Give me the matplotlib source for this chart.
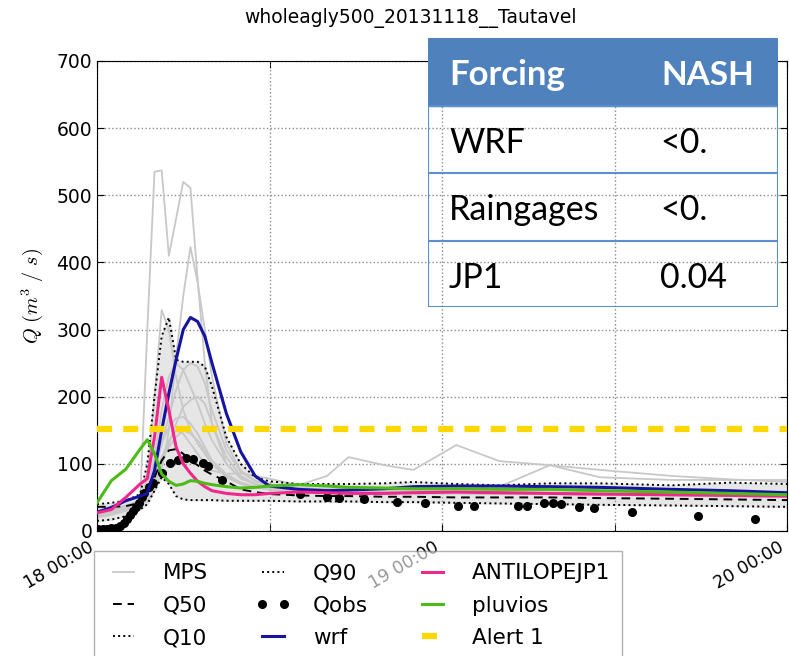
import matplotlib
matplotlib.use("Agg")
import matplotlib.pyplot as plt
from matplotlib.patches import Rectangle

plt.rcParams["mathtext.fontset"] = "cm"

# time axis in hours since 18 00:00
hours = [0, 1, 2, 3, 3.5, 4, 4.5, 5, 5.5, 6, 6.5, 7, 7.5, 8, 9, 10, 11, 12,
         14, 16, 17.5, 20, 22, 25, 28, 31.5, 35, 40, 44, 48]

wrf = [28, 35, 45, 52, 56, 90, 150, 205, 255, 300, 318, 312, 290, 250, 175, 118, 82, 67,
       62, 60, 61, 63, 66, 67, 67, 66, 65, 62, 60, 57]
antilope = [27, 32, 50, 70, 78, 140, 229, 180, 125, 100, 86, 74, 66, 60, 56, 54, 54, 56,
            58, 57, 56, 56, 57, 58, 57, 56, 55, 54, 53, 52]
pluvios = [42, 75, 92, 122, 136, 115, 85, 74, 68, 70, 75, 74, 71, 69, 66, 64, 65, 67,
           69, 67, 65, 64, 63, 63, 62, 62, 60, 58, 56, 54]
q50 = [36, 36, 37, 42, 55, 80, 105, 120, 122, 115, 105, 98, 90, 84, 74, 62, 58, 55,
       53, 52, 52, 51, 51, 50, 50, 50, 49, 48, 47, 46]
q90 = [40, 42, 45, 55, 100, 200, 290, 318, 255, 252, 252, 252, 245, 215, 140, 100, 80, 74,
       70, 70, 70, 71, 73, 70, 68, 71, 71, 68, 72, 70]
q10 = [15, 17, 22, 32, 40, 60, 80, 70, 52, 47, 46, 46, 46, 46, 45, 45, 45, 45,
       44, 44, 44, 43, 43, 42, 41, 40, 39, 38, 37, 36]

mps = [
    [25, 28, 35, 45, 300, 535, 537, 410, 465, 520, 511, 375, 250, 160, 100, 78, 70, 66,
     63, 62, 61, 60, 60, 58, 57, 56, 55, 54, 53, 52],
    [22, 25, 30, 38, 45, 60, 90, 150, 260, 350, 423, 370, 300, 230, 130, 90, 75, 68,
     64, 62, 61, 60, 59, 58, 57, 56, 55, 54, 53, 52],
    [20, 24, 30, 40, 80, 200, 329, 300, 230, 180, 150, 130, 115, 100, 82, 72, 66, 62,
     60, 59, 58, 57, 56, 56, 55, 55, 54, 53, 52, 51],
    [30, 33, 38, 45, 60, 90, 130, 170, 210, 240, 250, 245, 220, 180, 120, 88, 74, 68,
     64, 62, 61, 60, 60, 59, 58, 57, 56, 55, 54, 53],
    [28, 30, 34, 40, 50, 70, 100, 130, 160, 185, 195, 200, 190, 160, 110, 82, 70, 64,
     61, 60, 59, 58, 58, 57, 56, 55, 55, 54, 53, 52],
    [25, 28, 32, 38, 55, 90, 130, 155, 168, 170, 160, 145, 125, 105, 85, 72, 66, 62,
     60, 58, 57, 57, 56, 56, 55, 55, 54, 53, 52, 51],
    [30, 32, 36, 42, 55, 80, 110, 135, 150, 145, 130, 115, 100, 90, 85, 86, 82, 78,
     68, 82, 110, 98, 91, 128, 104, 98, 91, 82, 77, 73],
    [26, 29, 33, 40, 52, 75, 105, 125, 140, 150, 145, 135, 120, 100, 80, 70, 65, 62,
     60, 60, 61, 62, 62, 64, 66, 98, 80, 76, 76, 76],
    [22, 26, 32, 40, 60, 110, 180, 230, 250, 240, 215, 190, 160, 135, 100, 80, 70, 65,
     62, 60, 59, 58, 57, 57, 56, 55, 54, 53, 52, 51],
]

obs_hours = [0.1, 0.4, 0.7, 1.0, 1.3, 1.6, 1.9, 2.1, 2.3, 2.5, 2.7, 2.9, 3.1, 3.3, 3.6,
             3.9, 4.5, 5.1, 5.6, 6.2, 6.7, 7.4, 7.7, 8.7, 14.1, 16.0, 16.8, 18.6, 20.9,
             22.8, 25.1, 26.2, 29.3, 29.9, 31.1, 31.7, 32.3, 33.5, 34.6, 37.2, 41.8, 45.8]
qobs = [3, 3, 3, 4, 5, 7, 12, 18, 24, 30, 36, 42, 50, 57, 66,
        72, 86, 101, 106, 109, 107, 101, 97, 76, 55, 50, 49, 48, 43,
        42, 37, 37, 37, 37, 42, 42, 40, 36, 34, 28, 22, 18]

alert1 = 152

table_cols = ["Forcing", "NASH"]
table_rows = [["WRF", "<0."], ["Raingages", "<0."], ["JP1", "0.04"]]

fig = plt.figure(figsize=(7.89, 6.56), dpi=100)
ax = fig.add_axes([97 / 789, 1 - 531 / 656, 690 / 789, 470 / 656])

ax.fill_between(hours, q10, q90, color="0.9", zorder=1)
for i, m in enumerate(mps):
    ax.plot(hours, m, color="#c8c8c8", lw=1.3, zorder=2, label="MPS" if i == 0 else None)
ax.plot(hours, q50, color="k", lw=1.4, dashes=(4.5, 3), label="Q50", zorder=3)
ax.plot(hours, q10, color="k", lw=1.4, ls=":", label="Q10", zorder=3)
ax.plot(hours, q90, color="k", lw=1.4, ls=":", label="Q90", zorder=3)
ax.plot(obs_hours, qobs, "ko", ms=5.5, ls="none", label="Qobs", zorder=4)
ax.plot(hours, wrf, color="#1414a0", lw=2.2, label="wrf", zorder=5)
ax.plot(hours, antilope, color="#f0288c", lw=2.2, label="ANTILOPEJP1", zorder=5)
ax.plot(hours, pluvios, color="#4cbb17", lw=2.2, label="pluvios", zorder=5)
ax.axhline(alert1, color="#ffd700", lw=4.5, dashes=(2.4, 1.8), label="Alert 1", zorder=5)

ax.set_xlim(0, 48)
ax.set_ylim(0, 700)
ax.set_yticks(range(0, 701, 100))
ax.set_xticks([0, 24, 48])
ax.set_xticks([12, 36], minor=True)
ax.set_xticklabels(["18 00:00", "19 00:00", "20 00:00"], rotation=30, ha="right")
ax.tick_params(which="both", direction="in", top=True, right=True, length=5)
ax.tick_params(axis="y", labelsize=13.5)
ax.tick_params(axis="x", labelsize=12.5, pad=5)
ax.grid(True, which="both", color="0.55", ls=":", lw=1)
ax.set_ylabel(r"$Q\ (m^3\ /\ s)$", fontsize=14.5, labelpad=8)

fig.text(410 / 789, 1 - 18 / 656, "wholeagly500_20131118__Tautavel", ha="center",
         va="center", fontsize=13.5)

ax.legend(loc="upper left", bbox_to_anchor=(-0.004, -0.043), borderaxespad=0, ncol=3,
          fontsize=15.5, numpoints=2, framealpha=0.6, fancybox=False, edgecolor="0.5",
          borderpad=0.55, handlelength=1.6, handletextpad=1.05, columnspacing=2.2,
          labelspacing=0.58)

# table overlay
tax = fig.add_axes([428 / 789, 1 - 307 / 656, 350 / 789, 269 / 656])
tax.set_xlim(0, 350)
tax.set_ylim(269, 0)
tax.axis("off")
tax.add_patch(Rectangle((0, 0), 350, 68, color="#4f81bd"))
for y in [68, 135, 203, 269]:
    tax.plot([0, 350], [y, y], color="#5b8fd0", lw=1.5)
tax.plot([0, 0], [68, 269], color="#5b8fd0", lw=1.5)
tax.plot([350, 350], [68, 269], color="#5b8fd0", lw=1.5)
tfont = ["Lato", "DejaVu Sans"]
tax.text(21, 47, table_cols[0], color="white", fontweight="bold", fontsize=25,
         family=tfont, va="baseline")
tax.text(233, 47, table_cols[1], color="white", fontweight="bold", fontsize=24,
         family=tfont, va="baseline")
for r, y in zip(table_rows, [115, 182, 250]):
    tax.text(21, y, r[0], fontsize=24.5, family=tfont, va="baseline")
    tax.text(232, y, r[1], fontsize=24.5, family=tfont, va="baseline")

fig.savefig("out.png", dpi=100)
